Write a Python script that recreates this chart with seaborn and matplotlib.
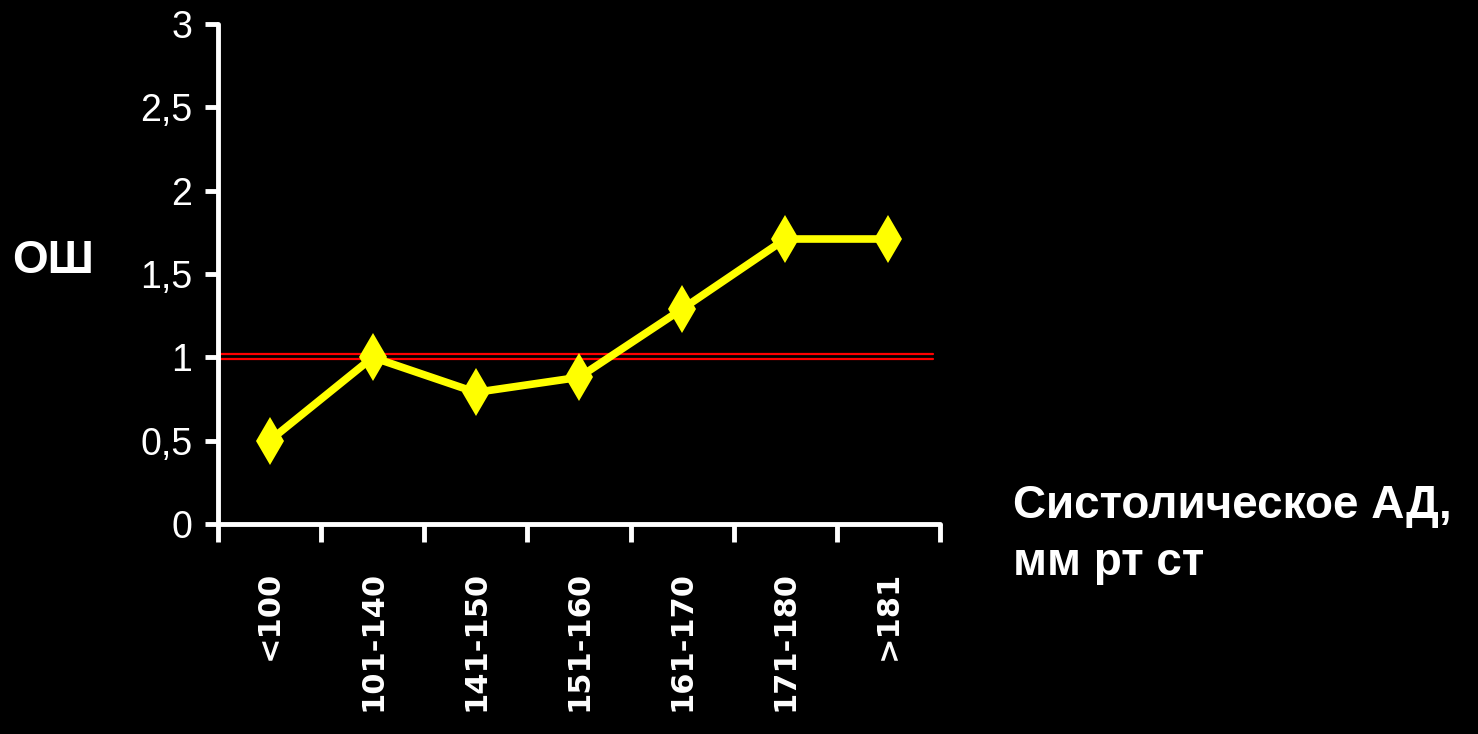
import matplotlib
matplotlib.use("Agg")
import matplotlib.pyplot as plt
from matplotlib import font_manager
import seaborn as sns
import pandas as pd

categories = ["<100", "101-140", "141-150", "151-160", "161-170", "171-180", ">181"]
odds_ratio = [0.5, 1.0, 0.79, 0.88, 1.29, 1.71, 1.71]
ref_lines = [1.02, 0.99]
y_ticks = [0, 0.5, 1, 1.5, 2, 2.5, 3]
y_tick_labels = ["0", "0,5", "1", "1,5", "2", "2,5", "3"]
y_label = "ОШ"
x_label_lines = ["Систолическое АД,", "мм рт ст"]

sns.set_style("dark")
plt.rcParams["font.family"] = ["Liberation Sans", "DejaVu Sans"]

names = {f.name for f in font_manager.fontManager.ttflist}
tick_family = "Liberation Sans Narrow" if "Liberation Sans Narrow" in names else "Liberation Sans"
tick_size = 30 if tick_family.endswith("Narrow") else 27

fig = plt.figure(figsize=(14.78, 7.34), dpi=100, facecolor="black")
ax = fig.add_axes([0.1475, 0.2861, 0.4885, 0.6812])
ax.set_facecolor("black")

df = pd.DataFrame({"cat": categories, "or": odds_ratio})

for v in ref_lines:
    ax.axhline(v, xmin=0, xmax=0.99, color="#FF0000", linewidth=1.6, zorder=1)

sns.lineplot(data=df, x="cat", y="or", ax=ax, color="#FFFF00", linewidth=5.5,
             marker="d", markersize=24, markeredgewidth=0, zorder=3, sort=False)

ax.set_xlim(-0.5, 6.5)
ax.set_ylim(0, 3)
ax.grid(False)

for s in ["top", "right"]:
    ax.spines[s].set_visible(False)
for s in ["left", "bottom"]:
    ax.spines[s].set_color("white")
    ax.spines[s].set_linewidth(3.5)
    ax.spines[s].set_capstyle("round")

ax.set_yticks(y_ticks)
ax.set_yticklabels(y_tick_labels, fontsize=tick_size, family=[tick_family, "DejaVu Sans"])
ax.tick_params(axis="y", colors="white", length=9.5, width=3.5, pad=9, left=True)

ax.set_xticks(range(len(categories)))
ax.set_xticklabels(categories, rotation=90, fontsize=22, fontweight="bold",
                   family=["DejaVu Sans"])
ax.tick_params(axis="x", which="major", colors="white", length=0, pad=34, bottom=True)
ax.set_xticks([i - 0.5 for i in range(len(categories) + 1)], minor=True)
ax.tick_params(axis="x", which="minor", colors="white", length=13, width=3.5, bottom=True)
for t in ax.xaxis.get_minorticklines() + ax.yaxis.get_majorticklines():
    t.set_solid_capstyle("round")

ax.set_xlabel("")
ax.set_ylabel("")
fig.text(12 / 1478, 1 - 273 / 734, y_label, color="white", fontsize=33,
         fontweight="bold", ha="left", va="baseline")
fig.text(1013 / 1478, 1 - 518 / 734, x_label_lines[0], color="white", fontsize=33,
         fontweight="bold", ha="left", va="baseline")
fig.text(1013 / 1478, 1 - 575 / 734, x_label_lines[1], color="white", fontsize=33,
         fontweight="bold", ha="left", va="baseline")

fig.savefig("out.png", dpi=100, facecolor="black")
